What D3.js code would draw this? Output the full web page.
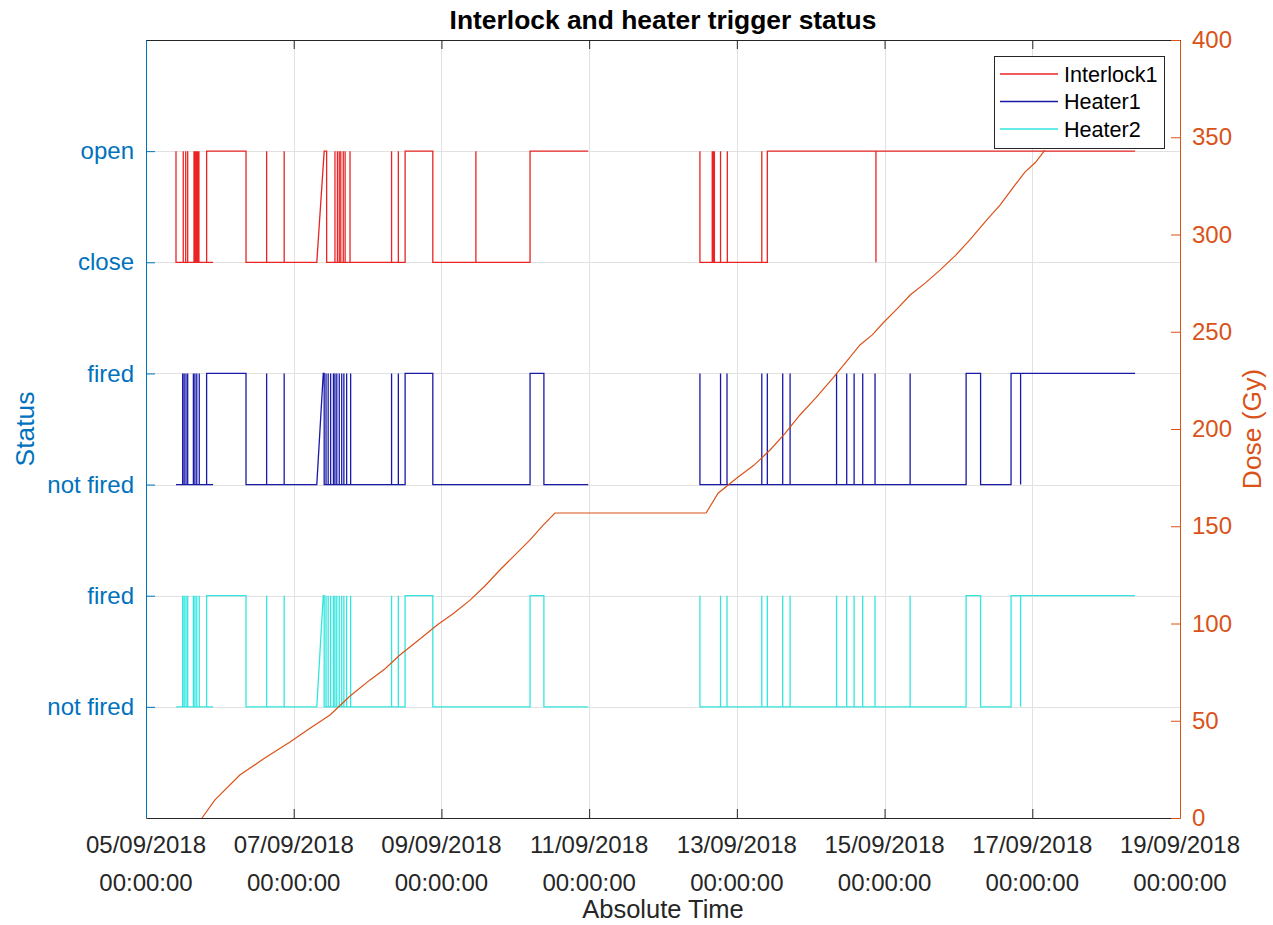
<!DOCTYPE html>
<html>
<head>
<meta charset="utf-8">
<script src="https://cdn.jsdelivr.net/npm/d3@7"></script>
<style>
  body { margin: 0; background: #fff; }
  svg { display: block; font-family: "Liberation Sans", Arial, Helvetica, sans-serif; }
</style>
</head>
<body>
<svg id="chart" width="1273" height="925"></svg>
<script>
// ---- data ----------------------------------------------------------------
// time origin: 05/09/2018 00:00:00, samples given in hours from that origin
const startDate = "2018-09-05T00:00:00Z";
const endDate = "2018-09-19T00:00:00Z";

// status categories on the left axis, bottom to top
const statusLevels = [1, 2, 3, 4, 5, 6];
const statusLabels = ["not fired", "fired", "not fired", "fired", "close", "open"];

// logged samples [hours, state]; null marks a gap in the log
const interlock1 = [
  [9.75,1],[9.75,0],
  [12.1,0],[12.1,1],[12.1,0],
  [12.9,0],[12.9,1],[12.9,0],
  [13.55,0],[13.55,1],[13.55,0],
  [15.6,0],[15.6,1],[15.6,0],
  [15.9,0],[15.9,1],[15.9,0],
  [16.25,0],[16.25,1],[16.25,0],
  [16.6,0],[16.6,1],[16.6,0],
  [16.9,0],[16.9,1],[16.9,0],
  [17.2,0],[17.2,1],[17.2,0],
  [21.8,0],[19.7,0],[19.7,1],
  [32.5,1],[32.5,0],
  [39.2,0],[39.2,1],[39.2,0],
  [44.9,0],[44.9,1],[44.9,0],
  [55.5,0],[57.9,1],
  [58.7,1],[58.7,0],
  [61.4,0],[61.4,1],[61.4,0],
  [62.2,0],[62.2,1],[62.2,0],
  [62.8,0],[62.8,1],[62.8,0],
  [63.3,0],[63.3,1],[63.3,0],
  [64.1,0],[64.1,1],[64.1,0],
  [64.7,0],[64.7,1],[64.7,0],
  [66.3,0],[66.3,1],[66.3,0],
  [79.8,0],[79.8,1],[79.8,0],
  [82.0,0],[82.0,1],[82.0,0],
  [84.2,0],[84.2,1],[93.2,1],[93.2,0],
  [107.2,0],[107.2,1],[107.2,0],
  [124.8,0],[124.8,1],[143.7,1],
  null,
  [180.0,1],[180.0,0],
  [184.0,0],[184.0,1],[184.0,0],
  [184.3,0],[184.3,1],[184.3,0],
  [184.7,0],[184.7,1],[184.7,0],
  [186.7,0],[186.7,1],[186.7,0],
  [188.9,0],[188.9,1],[188.9,0],
  [200.1,0],[200.1,1],[200.1,0],
  [201.9,0],[201.9,1],
  [237.2,1],[237.2,0],[237.2,1],
  [321.4,1]
];

const heater1 = [
  [9.75,0],
  [11.9,0],[11.9,1],[11.9,0],
  [12.4,0],[12.4,1],[12.4,0],
  [13.0,0],[13.0,1],[13.0,0],
  [13.55,0],[13.55,1],[13.55,0],
  [15.4,0],[15.4,1],[15.4,0],
  [15.9,0],[15.9,1],[15.9,0],
  [16.5,0],[16.5,1],[16.5,0],
  [17.3,0],[17.3,1],[17.3,0],
  [21.8,0],[19.7,0],[19.7,1],
  [32.5,1],[32.5,0],
  [39.2,0],[39.2,1],[39.2,0],
  [44.9,0],[44.9,1],[44.9,0],
  [55.5,0],[57.6,1],[57.9,1],[57.9,0],
  [58.5,0],[58.5,1],[58.5,0],
  [59.2,0],[59.2,1],[59.2,0],
  [60.0,0],[60.0,1],[60.0,0],
  [60.9,0],[60.9,1],[60.9,0],
  [61.4,0],[61.4,1],[61.4,0],
  [62.0,0],[62.0,1],[62.0,0],
  [62.8,0],[62.8,1],[62.8,0],
  [63.6,0],[63.6,1],[63.6,0],
  [64.3,0],[64.3,1],[64.3,0],
  [65.2,0],[65.2,1],[65.2,0],
  [66.5,0],[66.5,1],[66.5,0],
  [79.8,0],[79.8,1],[79.8,0],
  [82.0,0],[82.0,1],[82.0,0],
  [84.2,0],[84.2,1],[93.2,1],[93.2,0],
  [124.8,0],[124.8,1],[129.3,1],[129.3,0],
  [143.7,0],
  null,
  [180.0,1],[180.0,0],
  [186.7,0],[186.7,1],[186.7,0],
  [188.8,0],[188.8,1],[188.8,0],
  [200.1,0],[200.1,1],[200.1,0],
  [201.9,0],[201.9,1],[201.9,0],
  [206.9,0],[206.9,1],[206.9,0],
  [209.3,0],[209.3,1],[209.3,0],
  [224.4,0],[224.4,1],[224.4,0],
  [227.7,0],[227.7,1],[227.7,0],
  [230.1,0],[230.1,1],[230.1,0],
  [232.9,0],[232.9,1],[232.9,0],
  [236.9,0],[236.9,1],[236.9,0],
  [248.3,0],[248.3,1],[248.3,0],
  [266.5,0],[266.5,1],[271.2,1],[271.2,0],
  [281.1,0],[281.1,1],
  [284.2,1],[284.2,0],[284.2,1],
  [321.4,1]
];

const heater2 = [
  [9.75,0],
  [11.9,0],[11.9,1],[11.9,0],
  [12.4,0],[12.4,1],[12.4,0],
  [13.0,0],[13.0,1],[13.0,0],
  [13.55,0],[13.55,1],[13.55,0],
  [15.4,0],[15.4,1],[15.4,0],
  [15.9,0],[15.9,1],[15.9,0],
  [16.5,0],[16.5,1],[16.5,0],
  [17.3,0],[17.3,1],[17.3,0],
  [21.8,0],[19.7,0],[19.7,1],
  [32.5,1],[32.5,0],
  [39.2,0],[39.2,1],[39.2,0],
  [44.9,0],[44.9,1],[44.9,0],
  [55.5,0],[57.6,1],[57.9,1],[57.9,0],
  [58.5,0],[58.5,1],[58.5,0],
  [59.2,0],[59.2,1],[59.2,0],
  [60.0,0],[60.0,1],[60.0,0],
  [60.9,0],[60.9,1],[60.9,0],
  [61.4,0],[61.4,1],[61.4,0],
  [62.0,0],[62.0,1],[62.0,0],
  [62.8,0],[62.8,1],[62.8,0],
  [63.6,0],[63.6,1],[63.6,0],
  [64.3,0],[64.3,1],[64.3,0],
  [65.2,0],[65.2,1],[65.2,0],
  [66.5,0],[66.5,1],[66.5,0],
  [79.8,0],[79.8,1],[79.8,0],
  [82.0,0],[82.0,1],[82.0,0],
  [84.2,0],[84.2,1],[93.2,1],[93.2,0],
  [124.8,0],[124.8,1],[129.3,1],[129.3,0],
  [143.7,0],
  null,
  [180.0,1],[180.0,0],
  [186.7,0],[186.7,1],[186.7,0],
  [188.8,0],[188.8,1],[188.8,0],
  [200.1,0],[200.1,1],[200.1,0],
  [201.9,0],[201.9,1],[201.9,0],
  [206.9,0],[206.9,1],[206.9,0],
  [209.3,0],[209.3,1],[209.3,0],
  [224.4,0],[224.4,1],[224.4,0],
  [227.7,0],[227.7,1],[227.7,0],
  [230.1,0],[230.1,1],[230.1,0],
  [232.9,0],[232.9,1],[232.9,0],
  [236.9,0],[236.9,1],[236.9,0],
  [248.3,0],[248.3,1],[248.3,0],
  [266.5,0],[266.5,1],[271.2,1],[271.2,0],
  [281.1,0],[281.1,1],
  [284.2,1],[284.2,0],[284.2,1],
  [321.4,1]
];

// accumulated dose (right axis)
const doseHours = [18.2, 22.4, 30.5, 38.6, 46.8, 53.3, 59.8, 66.3, 72.8, 77.6, 82.5, 88.5, 94.6, 100.0, 105.3, 110.2, 115.0, 120.0, 124.8, 128.9, 132.9,
                   182.0, 185.9, 192.0, 197.4, 202.8, 207.6, 212.5, 217.8, 223.2, 227.6, 232.0, 236.0, 239.8, 244.0, 248.3, 253.2, 258.0, 262.9, 267.7, 272.6, 277.5, 281.5, 285.6, 289.0, 292.1];
const doseGy = [0, 9.3, 22.1, 30.8, 39.1, 46.2, 53.0, 62.7, 71.0, 76.6, 83.8, 91.4, 99.2, 105.3, 112.0, 119.4, 127.5, 135.4, 143.0, 150.3, 156.8,
                156.8, 167.0, 174.8, 181.2, 189.2, 197.6, 207.2, 216.3, 226.2, 234.6, 243.2, 248.4, 255.0, 261.6, 268.9, 275.0, 281.7, 289.0, 297.2, 306.4, 315.1, 323.6, 332.1, 337.0, 343.4];

const doseTicks = [0, 50, 100, 150, 200, 250, 300, 350, 400];

// series: name, samples, index of its lower category level
const seriesNames = ["Interlock1", "Heater1", "Heater2"];
const seriesSamples = [interlock1, heater1, heater2];
const seriesBaseLevel = [5, 3, 1];
const seriesColors = ["#ea2424", "#1a1aa8", "#33e6e0"];

// ---- layout --------------------------------------------------------------
const W = 1273, H = 925;
const M = { left: 146, right: 1180, top: 40, bottom: 818 };
const LEFT_COLOR = "#0072BD";
const RIGHT_COLOR = "#D95319";
const AXIS_DARK = "#262626";
const TICK_FONT = 24;

const svg = d3.select("#chart");

const t0 = new Date(startDate);
const toDate = h => new Date(t0.getTime() + h * 3600e3);

const x = d3.scaleUtc().domain([new Date(startDate), new Date(endDate)]).range([M.left, M.right]);
const yL = d3.scaleLinear().domain([0, 7]).range([M.bottom, M.top]);
const yR = d3.scaleLinear().domain([0, 400]).range([M.bottom, M.top]);

const xTicks = d3.utcDay.every(2).range(new Date(startDate), d3.utcDay.offset(new Date(endDate), 1));

// grid
const grid = svg.append("g").attr("stroke", "#e1e1e1").attr("stroke-width", 1);
grid.selectAll("line.gx").data(xTicks).join("line")
  .attr("x1", d => Math.round(x(d)) + 0.5).attr("x2", d => Math.round(x(d)) + 0.5)
  .attr("y1", M.top).attr("y2", M.bottom);
grid.selectAll("line.gy").data(statusLevels).join("line")
  .attr("x1", M.left).attr("x2", M.right)
  .attr("y1", d => Math.round(yL(d)) + 0.5).attr("y2", d => Math.round(yL(d)) + 0.5);

// status lines
const plot = svg.append("g");
seriesSamples.forEach((samples, i) => {
  const base = seriesBaseLevel[i];
  const line = d3.line()
    .defined(d => d !== null)
    .x(d => x(toDate(d[0])))
    .y(d => yL(base + d[1]));
  plot.append("path")
    .attr("d", line(samples))
    .attr("fill", "none")
    .attr("stroke", seriesColors[i])
    .attr("stroke-width", 1.3)
    .attr("stroke-linejoin", "miter");
});

// dose line
const doseLine = d3.line()
  .x((d, i) => x(toDate(doseHours[i])))
  .y((d, i) => yR(doseGy[i]));
plot.append("path")
  .attr("d", doseLine(doseHours))
  .attr("fill", "none")
  .attr("stroke", RIGHT_COLOR)
  .attr("stroke-width", 1.2);

// axes
const TL = 9;
const xAxisB = d3.axisBottom(x).tickValues(xTicks).tickSizeInner(-TL).tickSizeOuter(0).tickFormat("");
const xAxisT = d3.axisTop(x).tickValues(xTicks).tickSizeInner(-TL).tickSizeOuter(0).tickFormat("");
const gxb = svg.append("g").attr("transform", `translate(0,${M.bottom})`).call(xAxisB);
const gxt = svg.append("g").attr("transform", `translate(0,${M.top})`).call(xAxisT);
[gxb, gxt].forEach(g => {
  g.select(".domain").attr("stroke", AXIS_DARK).attr("stroke-width", 1);
  g.selectAll(".tick line").attr("stroke", AXIS_DARK);
});

// two-line date labels
const fmtDate = d3.utcFormat("%d/%m/%Y");
const fmtTime = d3.utcFormat("%H:%M:%S");
const xl = svg.append("g").attr("fill", AXIS_DARK).attr("font-size", TICK_FONT).attr("text-anchor", "middle");
xl.selectAll("text.d").data(xTicks).join("text")
  .attr("x", d => x(d)).attr("y", 853).text(d => fmtDate(d));
xl.selectAll("text.t").data(xTicks).join("text")
  .attr("x", d => x(d)).attr("y", 891).text(d => fmtTime(d));

// left axis
const yAxisL = d3.axisLeft(yL).tickValues(statusLevels).tickSizeInner(-TL).tickSizeOuter(0)
  .tickFormat((d, i) => statusLabels[i]).tickPadding(12);
const gyl = svg.append("g").attr("transform", `translate(${M.left},0)`).call(yAxisL);
gyl.select(".domain").attr("stroke", LEFT_COLOR);
gyl.selectAll(".tick line").attr("stroke", LEFT_COLOR);
gyl.selectAll(".tick text").attr("fill", LEFT_COLOR).attr("font-size", TICK_FONT)
  .attr("font-family", null);

// right axis
const yAxisR = d3.axisRight(yR).tickValues(doseTicks).tickSizeInner(-TL).tickSizeOuter(0).tickPadding(12);
const gyr = svg.append("g").attr("transform", `translate(${M.right},0)`).call(yAxisR);
gyr.select(".domain").attr("stroke", RIGHT_COLOR);
gyr.selectAll(".tick line").attr("stroke", RIGHT_COLOR);
gyr.selectAll(".tick text").attr("fill", RIGHT_COLOR).attr("font-size", TICK_FONT)
  .attr("font-family", null);

// titles
svg.append("text").attr("x", (M.left + M.right) / 2).attr("y", 29)
  .attr("text-anchor", "middle").attr("font-weight", "bold").attr("font-size", 26.4)
  .attr("fill", "#000").text("Interlock and heater trigger status");
svg.append("text").attr("x", (M.left + M.right) / 2).attr("y", 918)
  .attr("text-anchor", "middle").attr("font-size", 25.5).attr("fill", AXIS_DARK)
  .text("Absolute Time");
svg.append("text").attr("transform", `translate(34,${(M.top + M.bottom) / 2}) rotate(-90)`)
  .attr("text-anchor", "middle").attr("font-size", 26.4).attr("fill", LEFT_COLOR).text("Status");
svg.append("text").attr("transform", `translate(1261,${(M.top + M.bottom) / 2}) rotate(-90)`)
  .attr("text-anchor", "middle").attr("font-size", 26.4).attr("fill", RIGHT_COLOR).text("Dose (Gy)");

// legend
const lg = svg.append("g").attr("transform", "translate(994,56)");
lg.append("rect").attr("x", 0.5).attr("y", 0.5).attr("width", 170).attr("height", 92)
  .attr("fill", "#fff").attr("stroke", AXIS_DARK).attr("stroke-width", 1);
seriesNames.forEach((name, i) => {
  const yy = 18 + i * 27.5;
  lg.append("line").attr("x1", 6).attr("x2", 64).attr("y1", yy).attr("y2", yy)
    .attr("stroke", seriesColors[i]).attr("stroke-width", 1.3);
  lg.append("text").attr("x", 70).attr("y", yy + 7.5).attr("font-size", 21.6)
    .attr("fill", "#000").text(name);
});
</script>
</body>
</html>
